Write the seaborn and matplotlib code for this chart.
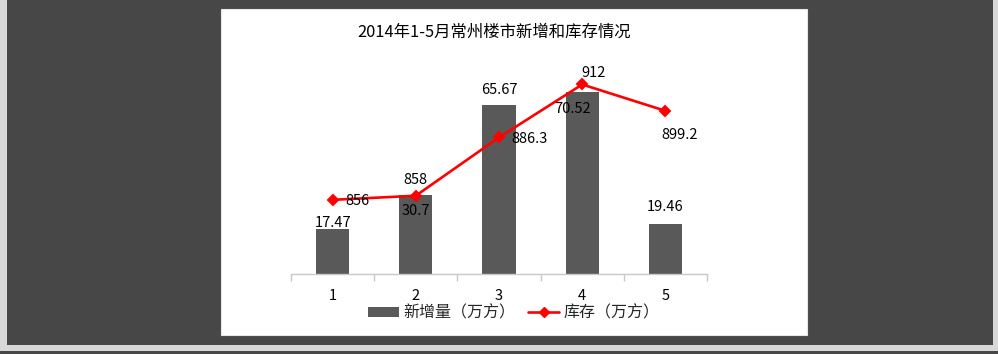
import numpy as np
import pandas as pd
import matplotlib
matplotlib.use('Agg')
import matplotlib.pyplot as plt
import seaborn as sns
from matplotlib.patches import Rectangle, Patch
from matplotlib.lines import Line2D

# ---- data ----
months = ['1', '2', '3', '4', '5']
new_supply = [17.47, 30.7, 65.67, 70.52, 19.46]
inventory = [856, 858, 886.3, 912, 899.2]
title = '2014年1-5月常州楼市新增和库存情况'
bar_name = '新增量（万方）'
line_name = '库存（万方）'

# label offsets in pixels (dx, dy)
bar_offsets = [(0, 6), (0, -16), (0, 15), (-10, -17), (0, 17)]
line_offsets = [(25, -1), (0, 16), (31, -2), (11, 11), (14, -24)]

sns.set_theme(style='white')
plt.rcParams['font.family'] = ['Noto Sans CJK SC', 'DejaVu Sans']

W, H = 998, 354
fig = plt.figure(figsize=(W / 100, H / 100), dpi=100)
fig.patch.set_facecolor('#d8d8d8')
fig.add_artist(Rectangle((7 / W, (H - 345) / H), (993 - 7) / W, 345 / H,
                         transform=fig.transFigure, facecolor='#474747',
                         edgecolor='none', zorder=-3))
fig.add_artist(Rectangle((0, 0), 1, 3 / H, transform=fig.transFigure,
                         facecolor='#474747', edgecolor='none', zorder=-3))
fig.add_artist(Rectangle((221 / W, (H - 335) / H), (807 - 221) / W, (335 - 9) / H,
                         transform=fig.transFigure, facecolor='white',
                         edgecolor='#e6e6e6', lw=0.8, zorder=-2))

df = pd.DataFrame({'month': months, 'new': new_supply, 'inv': inventory})

ax = fig.add_axes([291 / W, (H - 274) / H, 416 / W, 206 / H])
ax.patch.set_alpha(0)
sns.barplot(data=df, x='month', y='new', color='#595959', saturation=1,
            width=0.4, edgecolor='none', linewidth=0, ax=ax)
ax.set_ylim(0, 80)

ax2 = ax.twinx()
sns.pointplot(data=df, x='month', y='inv', color='#ff0000', markers='D',
              markersize=5.5, linewidth=1.9, ax=ax2)
ax2.set_ylim(820, 920)
ax.set_xlim(-0.5, len(months) - 0.5)

for a in (ax, ax2):
    a.set_xlabel('')
    a.set_ylabel('')
    a.set_yticks([])
    for s in ('top', 'left', 'right'):
        a.spines[s].set_visible(False)
ax2.spines['bottom'].set_visible(False)
ax.spines['bottom'].set_color('#c8c8c8')
ax.spines['bottom'].set_linewidth(1)

ax.set_xticks(np.arange(len(months)))
ax.set_xticklabels(months)
ax.set_xticks(np.arange(len(months) + 1) - 0.5, minor=True)
ax.tick_params(axis='x', which='major', length=0, pad=11, labelsize=10.5,
               labelcolor='black')
ax.tick_params(axis='x', which='minor', bottom=True, length=5, width=1,
               color='#c8c8c8', direction='out')

for i, v in enumerate(new_supply):
    dx, dy = bar_offsets[i]
    ax.annotate(f'{v:g}', xy=(i, v), xytext=(dx, dy), textcoords='offset pixels',
                ha='center', va='center', fontsize=10.5, color='black')
for i, v in enumerate(inventory):
    dx, dy = line_offsets[i]
    ax2.annotate(f'{v:g}', xy=(i, v), xytext=(dx, dy), textcoords='offset pixels',
                 ha='center', va='center', fontsize=10.5, color='black')

fig.text(494 / W, 1 - 32 / H, title, ha='center', va='center',
         fontsize=11.8, color='black')

handles = [Patch(facecolor='#595959', edgecolor='none'),
           Line2D([], [], color='#ff0000', lw=1.9, marker='D', markersize=5.5)]
fig.legend(handles, [bar_name, line_name], loc='center',
           bbox_to_anchor=(514 / W, 1 - 313 / H), ncol=2, frameon=False,
           fontsize=11.5, handlelength=1.9, handleheight=0.55,
           handletextpad=0.3, columnspacing=0.8)

fig.savefig('out.png', dpi=100, facecolor=fig.get_facecolor())
